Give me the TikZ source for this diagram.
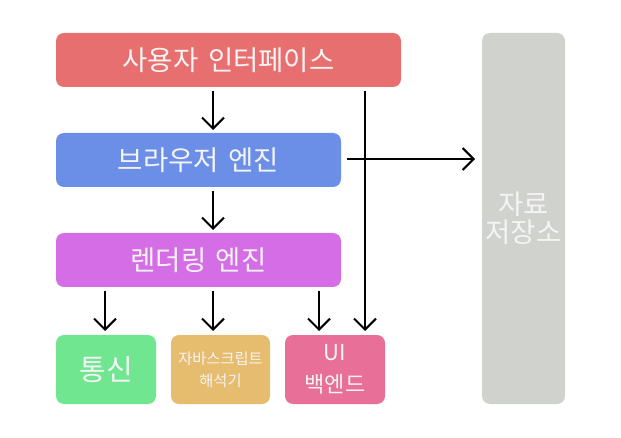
\documentclass[tikz,border=0pt]{standalone}
\usepackage{fontspec}
\setmainfont{Noto Sans CJK KR}
\usetikzlibrary{arrows.meta}
\definecolor{cred}{HTML}{E86F6F}
\definecolor{cblue}{HTML}{6B8FE6}
\definecolor{cpurple}{HTML}{D56DE6}
\definecolor{cgreen}{HTML}{6FE68F}
\definecolor{corange}{HTML}{E6BC6F}
\definecolor{cpink}{HTML}{E86F97}
\definecolor{cgray}{HTML}{D0D2CE}
\definecolor{ctext}{HTML}{F4F4F4}
\newcommand{\gap}{\hspace{0.35em}}
\tikzset{
  box/.style={rounded corners=8pt, inner sep=0pt, text=ctext, align=center},
  big/.style={font=\fontsize{27.5}{30}\selectfont},
  arr/.style={line width=2pt, -{Straight Barb[length=11pt,width=22pt,line width=2pt]}},
}
\begin{document}
\begin{tikzpicture}[x=1pt,y=-1pt]
\useasboundingbox (0,0) rectangle (621,438);
\fill[white] (0,0) rectangle (621,438);
\node[box, big, fill=cred, minimum width=345pt, minimum height=54pt] (ui) at (228.5,60) {사용자\gap 인터페이스};
\node[box, big, fill=cblue, minimum width=285pt, minimum height=54pt] (be) at (198.5,160) {브라우저\gap 엔진};
\node[box, big, fill=cpurple, minimum width=285pt, minimum height=54pt] (re) at (198.5,260) {렌더링\gap 엔진};
\node[box, fill=cgreen, minimum width=100pt, minimum height=69pt, font=\fontsize{29}{30}\selectfont] (net) at (106,369.5) {통신};
\node[box, fill=corange, minimum width=99pt, minimum height=69pt, font=\fontsize{15.3}{22}\selectfont] (js) at (220.5,369.5) {자바스크립트\\해석기};
\node[box, fill=cpink, minimum width=100pt, minimum height=69pt, font=\fontsize{22}{32}\selectfont] (uib) at (335,369.5) {UI\\백엔드};
\node[box, fill=cgray, minimum width=83pt, minimum height=371pt, font=\fontsize{27.5}{28}\selectfont] (st) at (523.5,218.5) {자료\\저장소};
\coordinate (a1s) at (213,91); \coordinate (a1e) at (213,130);
\coordinate (a2s) at (213,191); \coordinate (a2e) at (213,230);
\coordinate (a3s) at (105,291); \coordinate (a3e) at (105,331);
\coordinate (a4s) at (213,291); \coordinate (a4e) at (213,331);
\coordinate (a5s) at (319,291); \coordinate (a5e) at (319,331);
\coordinate (a6s) at (365,91); \coordinate (a6e) at (365,331);
\coordinate (a7s) at (347,159); \coordinate (a7e) at (475,159);
\draw[arr] (a1s) -- (a1e);
\draw[arr] (a2s) -- (a2e);
\draw[arr] (a3s) -- (a3e);
\draw[arr] (a4s) -- (a4e);
\draw[arr] (a5s) -- (a5e);
\draw[arr] (a6s) -- (a6e);
\draw[arr] (a7s) -- (a7e);
\end{tikzpicture}
\end{document}
